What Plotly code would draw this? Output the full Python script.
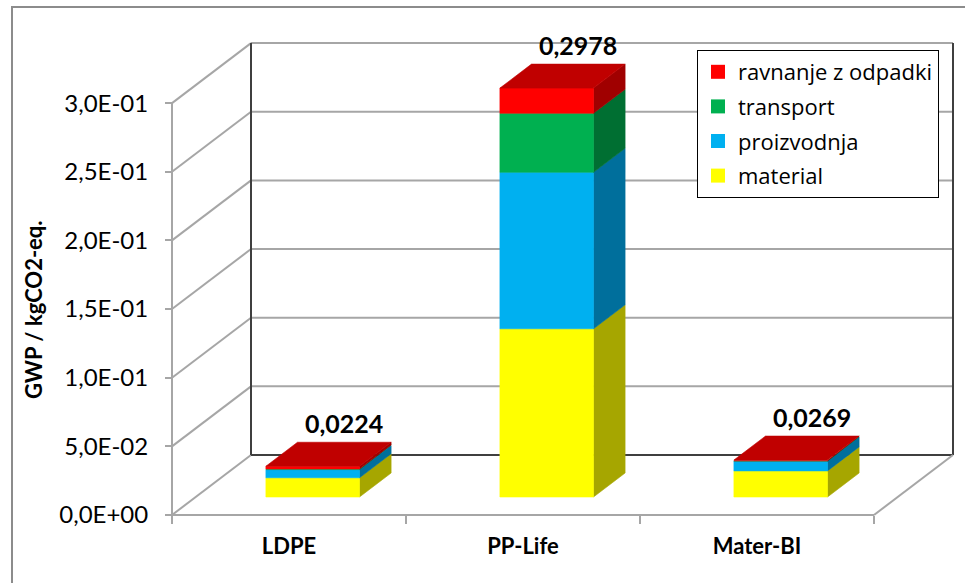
import plotly.graph_objects as go

# ---- data -------------------------------------------------------------
categories = ["LDPE", "PP-Life", "Mater-BI"]
material = [0.0140, 0.1225, 0.0190]
proizvodnja = [0.0060, 0.1140, 0.0072]
transport = [0.0004, 0.0430, 0.0002]
ravnanje = [0.0020, 0.0183, 0.0005]
total_labels = ["0,0224", "0,2978", "0,0269"]

y_ticks = [0.0, 0.05, 0.10, 0.15, 0.20, 0.25, 0.30]
y_tick_text = ["0,0E+00", "5,0E-02", "1,0E-01", "1,5E-01", "2,0E-01", "2,5E-01", "3,0E-01"]
y_title = "GWP / kgCO2-eq."

# stacking order (bottom -> top) with front / side colours
stack = [
    ("material", material, "#FFFF00", "#A6A600"),
    ("proizvodnja", proizvodnja, "#00B0F0", "#006F9C"),
    ("transport", transport, "#00B050", "#006F32"),
    ("ravnanje z odpadki", ravnanje, "#FF0000", "#A00000"),
]
TOP_COLOR = "#C00000"

# ---- oblique projection of the 3-D box ------------------------------
W, H = 965, 583
PX_X, PX_Y = 234.0, 1373.0          # pixels per category / per value unit
ORIGIN_X, ORIGIN_Y = 172.0, 515.0   # front-plane origin in pixels
DEPTH_PX = (79.0, 60.0)             # full depth offset in pixels
DX = DEPTH_PX[0] / PX_X             # category units per unit depth
DY = DEPTH_PX[1] / PX_Y             # value units per unit depth
BAR_HALF = 0.2                      # half bar width (category units)
D_FRONT, D_BACK = 0.3, 0.7          # bar depth extent
Y_MAX = 0.30
N = len(categories)
FONT = "Lato"

x_range = [-ORIGIN_X / PX_X, (W - ORIGIN_X) / PX_X]
y_range = [-(H - ORIGIN_Y) / PX_Y, ORIGIN_Y / PX_Y]


def proj(x, v, d):
    """Point at category coordinate x, value v, depth d (0 front .. 1 back)."""
    return x + d * DX, v + d * DY


def poly(points, color):
    xs = [p[0] for p in points] + [points[0][0]]
    ys = [p[1] for p in points] + [points[0][1]]
    return go.Scatter(x=xs, y=ys, mode="lines", fill="toself", fillcolor=color,
                      line=dict(color=color, width=0.6), hoverinfo="skip",
                      showlegend=False)


fig = go.Figure()

# ---- walls, grid and floor -------------------------------------------
GRID = "#A6A6A6"
DARK = "#3F3F3F"
shapes = []


def seg(p0, p1, color, width):
    shapes.append(dict(type="line", xref="x", yref="y", x0=p0[0], y0=p0[1],
                       x1=p1[0], y1=p1[1], line=dict(color=color, width=width),
                       layer="below"))


for v in y_ticks:
    # back-wall gridline and left-wall diagonal
    seg(proj(0, v, 1), proj(N, v, 1), GRID, 2)
    seg(proj(0, v, 0), proj(0, v, 1), GRID, 2)
# back wall frame
seg(proj(0, 0, 1), proj(0, Y_MAX, 1), DARK, 2)
seg(proj(0, 0, 1), proj(N, 0, 1), DARK, 2)
seg(proj(N, 0, 1), proj(N, Y_MAX, 1), DARK, 2)
# front value axis and floor edges
seg(proj(0, 0, 0), proj(0, Y_MAX, 0), GRID, 2)
seg(proj(0, 0, 0), proj(N, 0, 0), GRID, 2)
seg(proj(N, 0, 0), proj(N, 0, 1), GRID, 2)

# outer chart-area border
shapes.append(dict(type="rect", xref="paper", yref="paper",
                   x0=12 / W, x1=1.02, y0=-0.02, y1=1 - 7 / H,
                   line=dict(color="#8C8C8C", width=2), layer="below"))

# ---- stacked 3-D bars --------------------------------------------------
for i in range(N):
    xl, xr = i + 0.5 - BAR_HALF, i + 0.5 + BAR_HALF
    base = 0.0
    for k, (name, vals, c_front, c_side) in enumerate(stack):
        top = base + vals[i]
        front = [proj(xl, base, D_FRONT), proj(xr, base, D_FRONT),
                 proj(xr, top, D_FRONT), proj(xl, top, D_FRONT)]
        side = [proj(xr, base, D_FRONT), proj(xr, base, D_BACK),
                proj(xr, top, D_BACK), proj(xr, top, D_FRONT)]
        fig.add_trace(poly(side, c_side))
        fig.add_trace(poly(front, c_front))
        base = top
    lid = [proj(xl, base, D_FRONT), proj(xr, base, D_FRONT),
           proj(xr, base, D_BACK), proj(xl, base, D_BACK)]
    fig.add_trace(poly(lid, TOP_COLOR))
    # total label above the bar lid
    lx, ly = proj(i + 0.5, base, D_BACK)
    fig.add_annotation(x=lx, y=ly, text="<b>%s</b>" % total_labels[i],
                       showarrow=False, yanchor="bottom", yshift=2,
                       font=dict(size=25, color="#000000", family=FONT))

# ---- legend entries (top of stack first) -----------------------------
for rank, (name, vals, c_front, c_side) in enumerate(reversed(stack)):
    fig.add_trace(go.Scatter(x=[None], y=[None], mode="markers", name=name,
                             marker=dict(symbol="square", size=14, color=c_front),
                             legendgroup=name, legendrank=rank + 1))

fig.add_annotation(x=35 / W, y=1 - 310 / H, xref="paper", yref="paper",
                   xanchor="center", yanchor="middle",
                   text="<b>%s</b>" % y_title, textangle=-90, showarrow=False,
                   xshift=-2,
                   font=dict(size=22, color="#000000", family=FONT))

fig.update_layout(
    width=W, height=H,
    margin=dict(l=0, r=0, t=0, b=0),
    paper_bgcolor="white", plot_bgcolor="white",
    shapes=shapes,
    font=dict(family=FONT, color="#000000"),
    showlegend=True,
    legend=dict(x=697 / W, y=1 - 50 / H, xanchor="left", yanchor="top",
                bgcolor="white", bordercolor="#000000", borderwidth=1,
                font=dict(size=22, family="Open Sans"), traceorder="grouped",
                tracegroupgap=3, itemsizing="trace", itemwidth=30),
    xaxis=dict(range=x_range, anchor="free", position=(H - ORIGIN_Y) / H,
               showgrid=False, zeroline=False, showline=False,
               tickvals=[i + 0.5 for i in range(N)],
               ticktext=["<b>%s</b>" % c for c in categories],
               ticks="", ticklabelstandoff=16,
               tickfont=dict(size=22, family=FONT),
               minor=dict(tickvals=list(range(N + 1)), ticks="outside",
                          ticklen=8, tickcolor=GRID, tickwidth=2)),
    yaxis=dict(range=y_range, anchor="free", position=ORIGIN_X / W,
               showgrid=False, zeroline=False, showline=False,
               tickvals=y_ticks, ticktext=y_tick_text,
               ticks="outside", ticklen=7, tickcolor=GRID, tickwidth=2,
               ticklabelstandoff=12,
               tickfont=dict(size=24, family=FONT)),
)

fig.write_html("out.html")
